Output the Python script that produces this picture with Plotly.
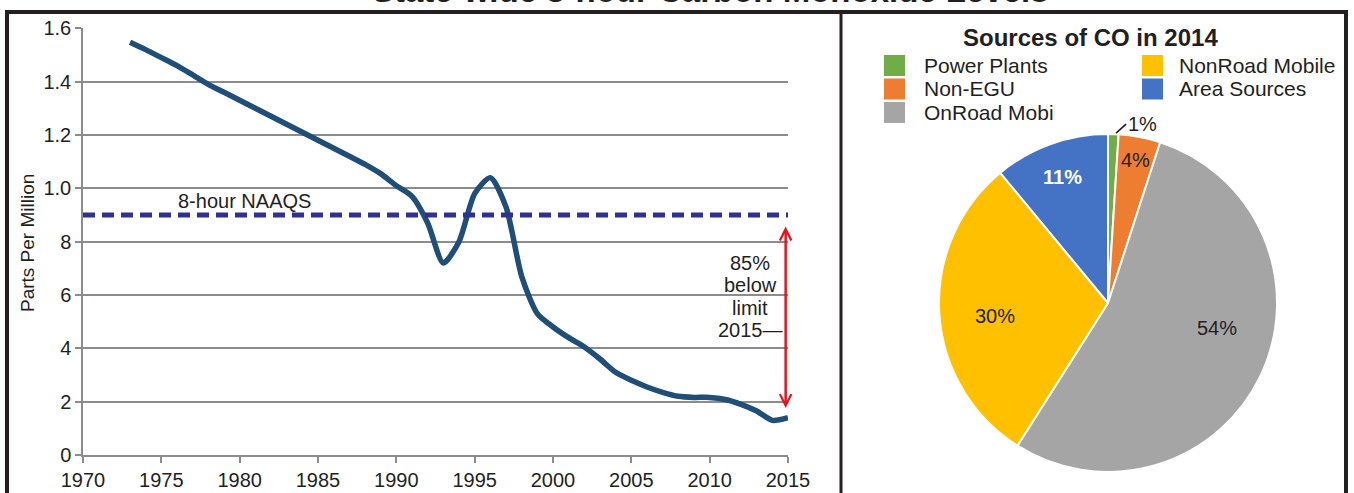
import math
import plotly.graph_objects as go

# ---- data -------------------------------------------------------------
years = list(range(1973, 2016))
co_ppm = [1.548, 1.52, 1.49, 1.46, 1.425, 1.39, 1.36, 1.33, 1.30, 1.27,
          1.24, 1.21, 1.18, 1.15, 1.12, 1.09, 1.055, 1.01, 0.97, 0.87,
          0.72, 0.80, 0.98, 1.04, 0.93, 0.67, 0.53, 0.48, 0.44, 0.405,
          0.36, 0.31, 0.28, 0.255, 0.235, 0.22, 0.216, 0.216, 0.208, 0.19,
          0.165, 0.13, 0.14]
naaqs_years = [1970, 2015]
naaqs_level = [0.9, 0.9]

y_tickvals = [0, 0.2, 0.4, 0.6, 0.8, 1.0, 1.2, 1.4, 1.6]
y_ticktext = ["0", "2", "4", "6", "8", "1.0", "1.2", "1.4", "1.6"]
x_tickvals = list(range(1970, 2016, 5))

arrow_top = 0.862
arrow_bottom = 0.176
arrow_year = 2014.85
note_lines = ["85%", "below", "limit", "2015\u2014"]

sources = ["Power Plants", "Non-EGU", "OnRoad Mobile", "NonRoad Mobile", "Area Sources"]
shares = [1, 4, 54, 30, 11]
colors = ["#70AD47", "#ED7D31", "#A5A5A5", "#FFC000", "#4472C4"]

# ---- page geometry (pixels) ------------------------------------------
W, H = 1354, 493
FONT = "Liberation Sans, Arial, sans-serif"
DARK = "#231F20"


def px(x):
    return x / W


def py(y):
    return 1 - y / H


def label(x, y, text, size=20, color=DARK, xanchor="center", yanchor="middle", **kw):
    """Text placed at a pixel position on the page."""
    d = dict(x=px(x), y=py(y), xref="paper", yref="paper", showarrow=False,
             text=text, xanchor=xanchor, yanchor=yanchor,
             font=dict(family=FONT, size=size, color=color))
    d.update(kw)
    return d


fig = go.Figure()

# CO trend line
fig.add_trace(go.Scatter(
    x=years, y=co_ppm, mode="lines",
    line=dict(color="#1F4E79", width=5.5, shape="spline", smoothing=0.7),
    hoverinfo="x+y", showlegend=False))

# 8-hour standard
fig.add_trace(go.Scatter(
    x=naaqs_years, y=naaqs_level, mode="lines",
    line=dict(color="#2E3192", width=5, dash="12px,7px"),
    hoverinfo="skip", showlegend=False))

# pie of sources
cx, cy, R = 1108, 303, 169
fig.add_trace(go.Pie(
    labels=sources, values=shares, sort=False, direction="clockwise",
    rotation=0, marker=dict(colors=colors, line=dict(color="white", width=2)),
    textinfo="none", showlegend=False,
    domain=dict(x=[px(cx - R), px(cx + R)], y=[py(cy + R), py(cy - R)])))

ax_style = dict(showline=True, linecolor="#8C8C8C", linewidth=1.5,
                ticks="outside", ticklen=6, tickcolor="#8C8C8C", tickwidth=1.5,
                tickfont=dict(family=FONT, size=20, color=DARK),
                zeroline=False, fixedrange=True, automargin=False)

fig.update_layout(
    width=W, height=H, margin=dict(l=0, r=0, t=0, b=0, pad=0),
    paper_bgcolor="white", plot_bgcolor="white",
    xaxis=dict(domain=[px(83), px(788)], range=[1970, 2015],
               tickvals=x_tickvals, showgrid=False, **ax_style),
    yaxis=dict(domain=[py(455), py(28.3)], range=[0, 1.6],
               tickvals=y_tickvals, ticktext=y_ticktext,
               showgrid=True, gridcolor="#8C8C8C", gridwidth=1.5, **ax_style),
)

ann = []
# chart title (sits above the frame, mostly off the page)
ann.append(label(710, 11, "<b>State-wide 8-hour Carbon Monoxide Levels</b>",
                 size=33, yanchor="bottom"))
# y axis title
ann.append(label(27, 243, "Parts Per Million", size=19, textangle=-90))
# NAAQS label
ann.append(dict(x=1980.3, y=0.9, xref="x", yref="y", xanchor="center",
                yanchor="bottom", yshift=1, showarrow=False, text="8-hour NAAQS",
                font=dict(family=FONT, size=20, color=DARK)))
# red double arrow between the limit and the 2015 level
ann.append(dict(x=arrow_year, y=arrow_bottom, ax=arrow_year, ay=arrow_top,
                xref="x", yref="y", axref="x", ayref="y", text="",
                showarrow=True, arrowside="end+start", arrowhead=5,
                startarrowhead=5, arrowsize=0.9, startarrowsize=0.9,
                arrowwidth=2.5, arrowcolor="#E5151B"))
for i, line in enumerate(note_lines):
    ann.append(label(750, 263 + 22.4 * i, line))

# pie title
ann.append(label(1090, 37, "<b>Sources of CO in 2014</b>", size=24))

# legend: three rows in the first column, then the second column
shapes = []
for i, (name, col) in enumerate(zip(sources, colors)):
    c, r = divmod(i, 3)
    sx = 884 if c == 0 else 1142
    tx = 922 if c == 0 else 1177
    yc = 65.5 + 23.5 * r
    shapes.append(dict(type="rect", xref="paper", yref="paper",
                       x0=px(sx), x1=px(sx + 21), y0=py(yc + 10.5), y1=py(yc - 10.5),
                       fillcolor=col, line=dict(width=0)))
    ann.append(label(tx, yc, name, size=21, xanchor="left"))

# white label box of the small slice, overlapping the legend tail
ann.append(label(1087, 115, " ", size=10, width=62, height=24, bgcolor="white"))

# slice percentage labels: radius (fraction of R) and angle nudge (deg)
label_r = [None, 0.86, 0.66, 0.675, 0.79]
label_turn = [0, 0, -12, -3, 0]
cum = 0
for i, v in enumerate(shares):
    mid = (cum + v / 2) / sum(shares) * 2 * math.pi
    cum += v
    if label_r[i] is None:
        # outside label with a short leader line
        a = mid + 0.016
        hx, hy = cx + (R + 1) * math.sin(a), cy - (R + 1) * math.cos(a)
        ann.append(dict(x=px(hx), y=py(hy), xref="paper", yref="paper",
                        ax=10, ay=-9, showarrow=True, arrowhead=0,
                        arrowwidth=1.6, arrowcolor=DARK,
                        text=f"{v}%", xanchor="left", yanchor="middle",
                        font=dict(family=FONT, size=20, color=DARK)))
        continue
    a = mid + math.radians(label_turn[i])
    lx = cx + label_r[i] * R * math.sin(a)
    ly = cy - label_r[i] * R * math.cos(a)
    bold = colors[i] == "#4472C4"
    ann.append(label(lx, ly, f"<b>{v}%</b>" if bold else f"{v}%",
                     color="white" if bold else DARK))

# panel frame and divider
shapes.append(dict(type="rect", xref="paper", yref="paper",
                   x0=px(7), x1=px(1346), y0=-0.1, y1=py(12),
                   line=dict(color=DARK, width=4), layer="above"))
shapes.append(dict(type="line", xref="paper", yref="paper",
                   x0=px(841), x1=px(841), y0=-0.1, y1=py(12),
                   line=dict(color=DARK, width=3), layer="above"))

fig.update_layout(annotations=ann, shapes=shapes)
fig.write_html("out.html",
               post_script="document.body.style.margin='0';"
                           "document.body.style.overflow='hidden';")
